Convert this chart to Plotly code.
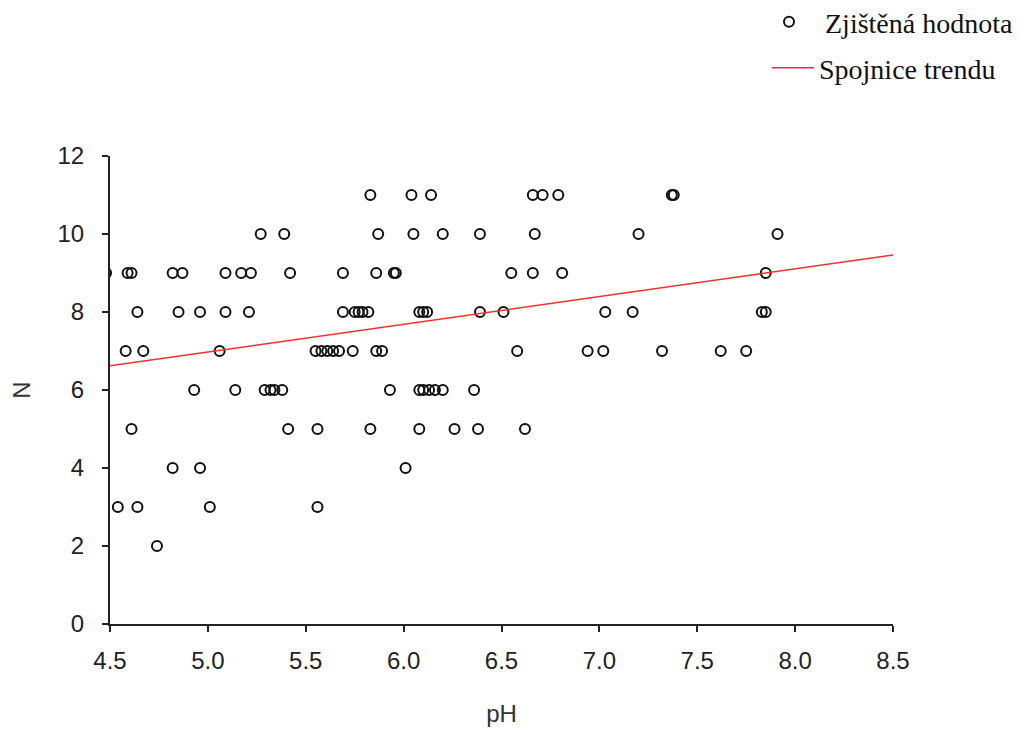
import plotly.graph_objects as go

ph_values = [
    5.83, 6.04, 6.14, 6.66, 6.71, 6.79, 7.37, 7.38,
    5.27, 5.39, 5.87, 6.05, 6.20, 6.39, 6.67, 7.20, 7.91,
    4.48, 4.59, 4.61, 4.82, 4.87, 5.09, 5.17, 5.22, 5.42, 5.69, 5.86, 5.95, 5.96, 6.55, 6.66, 6.81, 7.85,
    4.64, 4.85, 4.96, 5.09, 5.21, 5.69, 5.75, 5.77, 5.79, 5.82, 6.08, 6.10, 6.12, 6.39, 6.51, 7.03, 7.17, 7.83, 7.85,
    4.58, 4.67, 5.06, 5.55, 5.58, 5.61, 5.64, 5.67, 5.74, 5.86, 5.89, 6.58, 6.94, 7.02, 7.32, 7.62, 7.75,
    4.93, 5.14, 5.29, 5.32, 5.34, 5.38, 5.93, 6.08, 6.10, 6.13, 6.16, 6.20, 6.36,
    4.61, 5.41, 5.56, 5.83, 6.08, 6.26, 6.38, 6.62,
    4.82, 4.96, 6.01,
    4.54, 4.64, 5.01, 5.56,
    4.74,
]
n_values = (
    [11] * 8 + [10] * 9 + [9] * 17 + [8] * 19 + [7] * 17 + [6] * 13 + [5] * 8 + [4] * 3 + [3] * 4 + [2] * 1
)

# Trend line endpoints
trend_ph = [4.5, 8.5]
trend_n = [6.62, 9.46]

x_ticks = [4.5, 5.0, 5.5, 6.0, 6.5, 7.0, 7.5, 8.0, 8.5]
y_ticks = [0, 2, 4, 6, 8, 10, 12]

fig = go.Figure()
fig.add_trace(go.Scatter(
    x=ph_values, y=n_values, mode="markers", name="Zjištěná hodnota",
    marker=dict(symbol="circle-open", size=10, color="#111111", line=dict(width=2, color="#111111")),
    legend="legend",
))
fig.add_trace(go.Scatter(
    x=trend_ph, y=trend_n, mode="lines", name="Spojnice trendu",
    line=dict(color="#f03030", width=1.5),
    legend="legend2",
))

axis_font = dict(family="Liberation Sans, Arial", size=24, color="#222222")
legend_font = dict(family="Liberation Serif, Times New Roman, serif", size=28, color="#111")
fig.update_layout(
    width=1032, height=731,
    margin=dict(l=102, r=147, t=148, b=115, autoexpand=False),
    paper_bgcolor="white", plot_bgcolor="white",
    xaxis=dict(
        range=[4.5, 8.5], tickvals=x_ticks, ticktext=[f"{v:.1f}" for v in x_ticks],
        ticks="outside", ticklen=6, tickwidth=1.5, tickcolor="#222",
        showline=True, linecolor="#222", linewidth=2, showgrid=False, zeroline=False,
        tickfont=axis_font, ticklabelstandoff=8,
        title=dict(text="pH", font=dict(family="Liberation Sans, Arial", size=24, color="#333"), standoff=32),
    ),
    yaxis=dict(
        range=[0, 12], tickvals=y_ticks,
        ticks="outside", ticklen=6, tickwidth=1.5, tickcolor="#222",
        showline=True, linecolor="#222", linewidth=2, showgrid=False, zeroline=False,
        tickfont=axis_font, ticklabelstandoff=13,
        title=dict(text="N", font=dict(family="Liberation Sans, Arial", size=24, color="#333"), standoff=28),
    ),
    legend=dict(
        xref="container", yref="container",
        x=745 / 1032, y=1 - 14 / 731, xanchor="left", yanchor="middle",
        font=legend_font, bgcolor="rgba(0,0,0,0)", itemwidth=62,
    ),
    legend2=dict(
        xref="container", yref="container",
        x=759 / 1032, y=1 - 60 / 731, xanchor="left", yanchor="middle",
        font=legend_font, bgcolor="rgba(0,0,0,0)", itemwidth=42,
    ),
    showlegend=True,
)

fig.write_html("out.html")
